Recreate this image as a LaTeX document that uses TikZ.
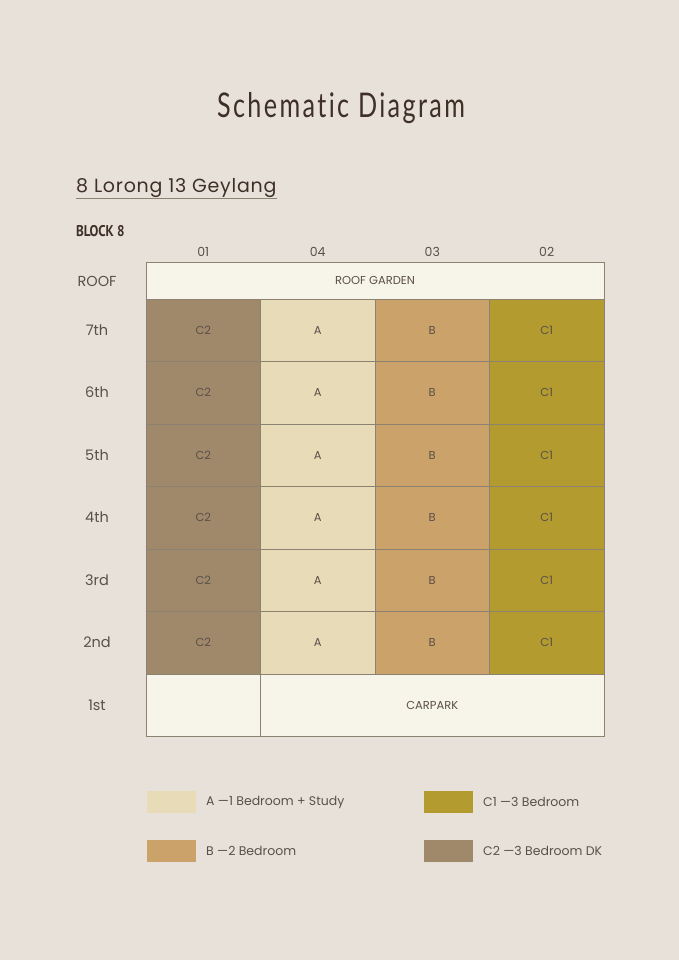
\documentclass[tikz,border=0pt]{standalone}
\usepackage{fontspec}
\setmainfont{Poppins}
\newfontfamily\titlefont[FakeStretch=0.74, LetterSpace=7, Ligatures=NoCommon]{Lato}
\newfontfamily\addrfont[LetterSpace=4]{Poppins}
\newfontfamily\blockfont[FakeStretch=0.85]{PT Sans}
\usetikzlibrary{positioning, calc}
\definecolor{paper}{HTML}{E8E1DA}
\definecolor{pale}{HTML}{F7F5EA}
\definecolor{typeA}{HTML}{E8DBB7}
\definecolor{typeB}{HTML}{CBA26A}
\definecolor{typeC1}{HTML}{B39B30}
\definecolor{typeC2}{HTML}{A0886B}
\definecolor{gridline}{HTML}{8C8272}
\definecolor{ink}{HTML}{5A5048}
\definecolor{darkink}{HTML}{3E3026}
\newcommand{\unitname}[1]{{\fontsize{11.5}{13}\selectfont #1}}

\begin{document}
\begin{tikzpicture}[
    x=1pt, y=-1pt,
    unit/.style={
        rectangle,
        draw=gridline,
        line width=0.8pt,
        minimum width=114.5pt,
        minimum height=62.5pt,
        inner sep=0pt,
        outer sep=0pt,
        anchor=north west,
        text=ink
    },
    floorlab/.style={text=ink, font=\fontsize{14.5}{16}\selectfont},
    collab/.style={text=ink, font=\fontsize{12.5}{14}\selectfont},
    swatch/.style={rectangle, minimum width=49pt, minimum height=22pt, inner sep=0pt, outer sep=0pt, anchor=north west},
    legendtext/.style={text=ink, anchor=west, inner sep=0pt, font=\fontsize{12.5}{14}\selectfont}
]

    % --- page ---
    \fill[paper] (0,0) rectangle (679,960);
    \useasboundingbox (0,0) rectangle (679,960);

    % --- headings ---
    \node[text=darkink, font=\titlefont\fontsize{34}{38}\selectfont] (title) at (341,108) {Schematic Diagram};
    \node[text=darkink, anchor=west, inner sep=0pt, font=\addrfont\fontsize{19}{21}\selectfont] (address) at (76,188) {8 Lorong 13 Geylang};
    \draw[gridline, line width=0.8pt] ($(address.south west)+(0,1)$) -- ($(address.south east)+(0,1)$);
    \node[text=darkink, anchor=west, inner sep=0pt, font=\blockfont\bfseries\fontsize{15.5}{17}\selectfont] (block) at (76,231) {BLOCK 8};

    % --- roof ---
    \node[unit, fill=pale, minimum width=458pt, minimum height=36.5pt] (roof) at (146,262.5) {\unitname{ROOF GARDEN}};
    \node[floorlab] (froof) at (97,281) {ROOF};

    % --- column numbers ---
    \foreach \num [count=\c] in {01,04,03,02}
        \node[collab] (col\c) at ({146+114.5*(\c-0.5)},252) {\num};

    % --- residential floors ---
    \foreach \fl [count=\i] in {7th,6th,5th,4th,3rd,2nd} {
        \node[unit, fill=typeC2] (c2\i) at (146,{299+62.5*(\i-1)}) {\unitname{C2}};
        \node[unit, fill=typeA, right=0pt of c2\i.north east, anchor=north west] (a\i) {\unitname{A}};
        \node[unit, fill=typeB, right=0pt of a\i.north east, anchor=north west] (b\i) {\unitname{B}};
        \node[unit, fill=typeC1, right=0pt of b\i.north east, anchor=north west] (c1\i) {\unitname{C1}};
        \node[floorlab] (f\i) at (97,{330+62.5*(\i-1)}) {\fl};
    }

    % --- 1st storey ---
    \node[unit, fill=pale] (lobby) at (146,674) {};
    \node[unit, fill=pale, minimum width=343.5pt, right=0pt of lobby.north east, anchor=north west] (carpark) {\unitname{CARPARK}};
    \node[floorlab] (f1) at (97,705) {1st};

    % --- legend ---
    \node[swatch, fill=typeA] (keyA) at (147,791) {};
    \node[legendtext, right=10pt of keyA] (txtA) {A —1 Bedroom + Study};
    \node[swatch, fill=typeB] (keyB) at (147,840) {};
    \node[legendtext, right=10pt of keyB] (txtB) {B —2 Bedroom};
    \node[swatch, fill=typeC1] (keyC1) at (424,791) {};
    \node[legendtext, right=10pt of keyC1] (txtC1) {C1 —3 Bedroom};
    \node[swatch, fill=typeC2] (keyC2) at (424,840) {};
    \node[legendtext, right=10pt of keyC2] (txtC2) {C2 —3 Bedroom DK};

\end{tikzpicture}
\end{document}
